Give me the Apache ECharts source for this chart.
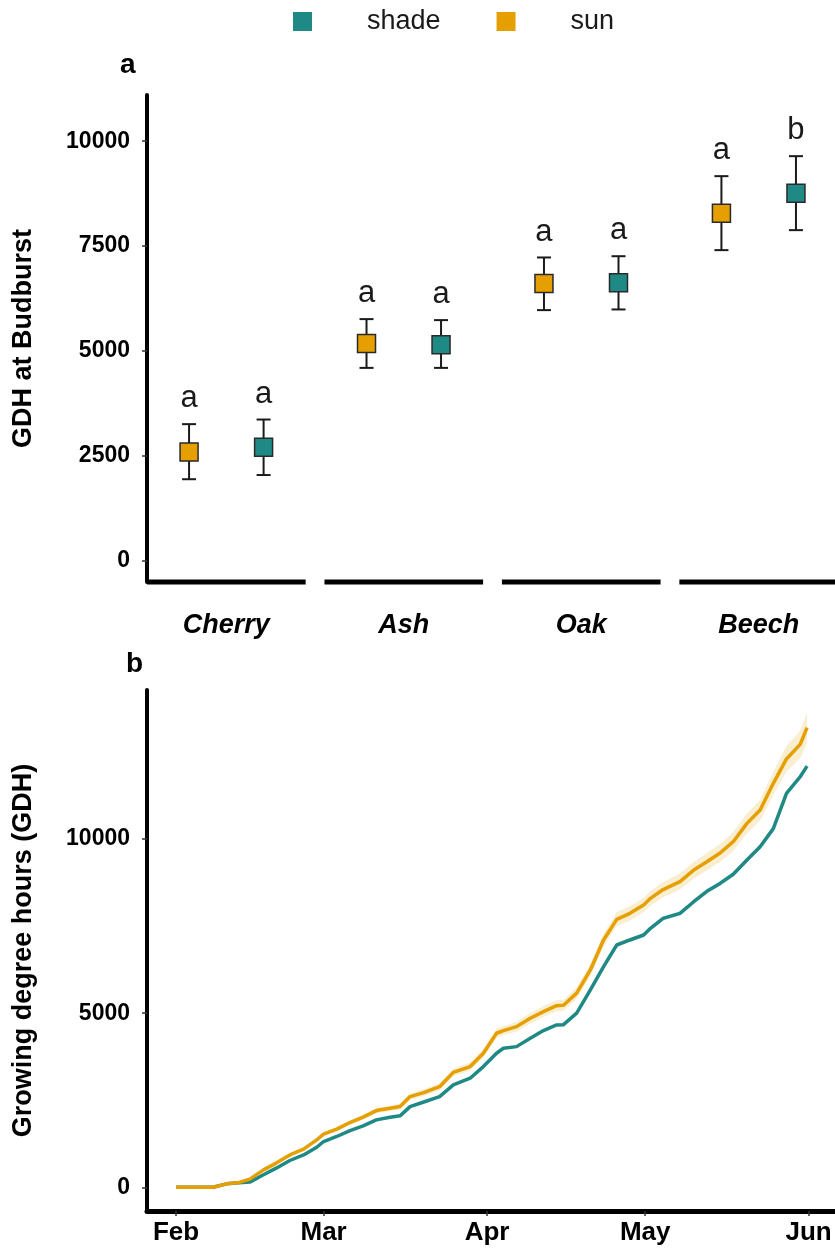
<!DOCTYPE html>
<html>
<head>
<meta charset="utf-8">
<title>GDH at budburst</title>
<script src="https://cdn.jsdelivr.net/npm/echarts@6/dist/echarts.min.js"></script>
<style>
  html, body { margin: 0; padding: 0; background: #fff; }
  #chart { width: 835px; height: 1253px; }
</style>
</head>
<body>
<div id="chart"></div>
<script>
// ---- panel a : GDH at budburst per species ----
var species = ["Cherry", "Ash", "Oak", "Beech"];
var sunMean = [2595, 5183, 6612, 8286];
var sunLow = [1948, 4600, 5976, 7405];
var sunHigh = [3260, 5762, 7230, 9167];
var shadeMean = [2707, 5150, 6627, 8762];
var shadeLow = [2048, 4600, 5992, 7881];
var shadeHigh = [3370, 5738, 7260, 9643];
var sunLetters = ["a", "a", "a", "a"];
var shadeLetters = ["a", "a", "a", "b"];
var gdhTicks = [0, 2500, 5000, 7500, 10000];

// ---- panel b : cumulative GDH, days since 1 Feb ----
var days = [0, 7, 9.6, 12, 14, 16.6, 19, 21.6, 24.2, 26.7,
  28, 30.5, 33, 35.5, 38, 40.6, 42.5, 44.4, 47, 50,
  52.6, 55.8, 58.3, 60.8, 62.1, 64.6, 67.2, 69.7, 72.2, 73.5,
  76, 78.6, 81.1, 83.6, 86.1, 88.7, 90, 92.4, 95.6, 98.2,
  100.7, 103.2, 105.7, 108.3, 110.8, 113.3, 115.8, 118.4, 119.7];
var sunGDH = [0, 0, 100, 140, 235, 500, 695, 930, 1095, 1363,
  1530, 1670, 1860, 2014, 2204, 2272, 2318, 2605, 2720, 2890,
  3300, 3467, 3850, 4424, 4500, 4614, 4855, 5045, 5217, 5230,
  5576, 6241, 7102, 7695, 7868, 8106, 8297, 8550, 8780, 9110,
  9349, 9600, 9924, 10450, 10832, 11600, 12300, 12720, 13200];
var shadeGDH = [0, 0, 100, 130, 150, 360, 550, 770, 930, 1150,
  1315, 1460, 1630, 1765, 1937, 2014, 2052, 2318, 2450, 2605,
  2941, 3133, 3467, 3850, 3994, 4040, 4281, 4500, 4663, 4670,
  5000, 5667, 6336, 6958, 7102, 7245, 7437, 7724, 7868, 8200,
  8500, 8727, 8990, 9400, 9780, 10300, 11311, 11789, 12095];
// half width of the ribbons
var sunSE = [0, 0, 10, 15, 20, 30, 35, 40, 45, 50,
  55, 60, 65, 70, 75, 80, 85, 90, 95, 100,
  110, 115, 120, 130, 135, 140, 150, 155, 160, 165,
  170, 180, 190, 200, 205, 210, 215, 220, 230, 240,
  250, 260, 270, 290, 300, 330, 370, 400, 430];
var shadeSE = [0, 0, 5, 5, 8, 10, 12, 14, 15, 16,
  18, 20, 20, 22, 24, 25, 26, 28, 30, 30,
  32, 34, 35, 36, 38, 40, 40, 42, 44, 45,
  46, 48, 50, 52, 54, 55, 56, 58, 60, 62,
  64, 66, 68, 70, 72, 75, 78, 80, 82];
var monthTicks = [0, 28, 59, 89, 120];
var monthLabels = ["Feb", "Mar", "Apr", "May", "Jun"];
var gdhTicks2 = [0, 5000, 10000];

var SUN = "#E69F00";
var SHADE = "#1F8A85";
var FONT = "Liberation Sans, Arial, sans-serif";
var DODGE = 0.21;

var chart = echarts.init(document.getElementById("chart"));

// error bars + significance letters
function errorSeries(name, offset, low, high, letters) {
  return {
    name: name + "-err",
    type: "custom",
    xAxisIndex: 0,
    yAxisIndex: 0,
    silent: true,
    z: 2,
    data: species.map(function (s, i) {
      return [i + 1 + offset, low[i], high[i]];
    }),
    renderItem: function (params, api) {
      var top = api.coord([api.value(0), api.value(2)]);
      var bot = api.coord([api.value(0), api.value(1)]);
      var cap = 7;
      var st = { stroke: "#1a1a1a", lineWidth: 2 };
      return {
        type: "group",
        children: [
          { type: "line", shape: { x1: top[0], y1: top[1], x2: bot[0], y2: bot[1] }, style: st },
          { type: "line", shape: { x1: top[0] - cap, y1: top[1], x2: top[0] + cap, y2: top[1] }, style: st },
          { type: "line", shape: { x1: bot[0] - cap, y1: bot[1], x2: bot[0] + cap, y2: bot[1] }, style: st },
          {
            type: "text",
            x: top[0],
            y: top[1] - 10,
            style: {
              text: letters[params.dataIndex],
              fill: "#1a1a1a",
              font: "31px " + FONT,
              align: "center",
              verticalAlign: "bottom",
            },
          },
        ],
      };
    },
  };
}

// ribbon for panel b
function ribbon(values, se, color) {
  return {
    type: "custom",
    xAxisIndex: 1,
    yAxisIndex: 1,
    silent: true,
    z: 1,
    data: days.map(function (d, i) { return [d, values[i]]; }),
    renderItem: function (params, api) {
      if (params.dataIndex !== 0) return null;
      var pts = [];
      for (var i = 0; i < days.length; i++) pts.push(api.coord([days[i], values[i] + se[i]]));
      for (var j = days.length - 1; j >= 0; j--) pts.push(api.coord([days[j], values[j] - se[j]]));
      return { type: "polygon", shape: { points: pts }, style: { fill: color } };
    },
  };
}

function plain(v) { return String(v); }

chart.setOption({
  animation: false,
  title: [
    { text: "a", left: 115, top: 46, textStyle: { fontFamily: FONT, fontSize: 28, fontWeight: "bold", color: "#000" } },
    { text: "b", left: 121, top: 645, textStyle: { fontFamily: FONT, fontSize: 28, fontWeight: "bold", color: "#000" } },
  ],
  legend: {
    data: ["shade", "sun"],
    left: 288,
    top: 3,
    icon: "rect",
    itemWidth: 19,
    itemHeight: 19,
    itemGap: 56,
    itemStyle: { borderWidth: 0 },
    textStyle: { fontFamily: FONT, fontSize: 27, color: "#1a1a1a", padding: [0, 0, 0, 50] },
  },
  grid: [
    { left: 147, top: 95, width: 688, height: 487 },
    { left: 147, top: 690, width: 688, height: 521 },
  ],
  xAxis: [
    {
      gridIndex: 0,
      type: "value",
      min: 0.553,
      max: 4.43,
      splitLine: { show: false },
      axisLine: { show: false, onZero: false },
      axisTick: { show: false },
      axisLabel: {
        customValues: [1, 2, 3, 4],
        formatter: function (v) { return species[Math.round(v) - 1]; },
        fontFamily: FONT,
        fontSize: 27,
        fontWeight: "bold",
        fontStyle: "italic",
        color: "#000",
        margin: 30,
      },
    },
    {
      gridIndex: 1,
      type: "value",
      min: -5.5,
      max: 125,
      splitLine: { show: false },
      axisLine: { onZero: false, lineStyle: { color: "#000", width: 5 } },
      axisTick: { customValues: monthTicks, length: 5, lineStyle: { color: "#333", width: 1.5 } },
      axisLabel: {
        customValues: monthTicks,
        formatter: function (v) { return monthLabels[monthTicks.indexOf(v)]; },
        fontFamily: FONT,
        fontSize: 26,
        fontWeight: "bold",
        color: "#000",
        margin: 9,
      },
    },
  ],
  yAxis: [
    {
      gridIndex: 0,
      type: "value",
      min: -500,
      max: 11100,
      name: "GDH at Budburst",
      nameLocation: "middle",
      nameGap: 110,
      nameTextStyle: { fontFamily: FONT, fontSize: 27, fontWeight: "bold", color: "#000" },
      splitLine: { show: false },
      axisLine: { onZero: false, lineStyle: { color: "#000", width: 4 } },
      axisTick: { customValues: gdhTicks, length: 5, lineStyle: { color: "#333", width: 1.5 } },
      axisLabel: {
        customValues: gdhTicks,
        formatter: plain,
        fontFamily: FONT,
        fontSize: 23,
        fontWeight: "bold",
        color: "#000",
        margin: 17,
      },
    },
    {
      gridIndex: 1,
      type: "value",
      min: -680,
      max: 14280,
      name: "Growing degree hours (GDH)",
      nameLocation: "middle",
      nameGap: 110,
      nameTextStyle: { fontFamily: FONT, fontSize: 27, fontWeight: "bold", color: "#000" },
      splitLine: { show: false },
      axisLine: { onZero: false, lineStyle: { color: "#000", width: 4 } },
      axisTick: { customValues: gdhTicks2, length: 5, lineStyle: { color: "#333", width: 1.5 } },
      axisLabel: {
        customValues: gdhTicks2,
        formatter: plain,
        fontFamily: FONT,
        fontSize: 23,
        fontWeight: "bold",
        color: "#000",
        margin: 17,
      },
    },
  ],
  series: [
    // broken x axis of panel a, one segment per species
    {
      type: "custom",
      xAxisIndex: 0,
      yAxisIndex: 0,
      silent: true,
      z: 1,
      data: species.map(function (s, i) { return [i + 1]; }),
      renderItem: function (params, api) {
        var a = api.coord([api.value(0) - 0.447, -500]);
        var b = api.coord([api.value(0) + 0.447, -500]);
        return { type: "line", shape: { x1: a[0], y1: a[1], x2: b[0], y2: b[1] }, style: { stroke: "#000", lineWidth: 5 } };
      },
    },
    errorSeries("sun", -DODGE, sunLow, sunHigh, sunLetters),
    errorSeries("shade", DODGE, shadeLow, shadeHigh, shadeLetters),
    {
      name: "sun",
      type: "scatter",
      xAxisIndex: 0,
      yAxisIndex: 0,
      symbol: "rect",
      symbolSize: 18,
      z: 3,
      itemStyle: { color: SUN, borderColor: "#2a2a2a", borderWidth: 1.5, opacity: 1 },
      data: sunMean.map(function (v, i) { return [i + 1 - DODGE, v]; }),
    },
    {
      name: "shade",
      type: "scatter",
      xAxisIndex: 0,
      yAxisIndex: 0,
      symbol: "rect",
      symbolSize: 18,
      z: 3,
      itemStyle: { color: SHADE, borderColor: "#2a2a2a", borderWidth: 1.5, opacity: 1 },
      data: shadeMean.map(function (v, i) { return [i + 1 + DODGE, v]; }),
    },
    ribbon(sunGDH, sunSE, "rgba(230,159,0,0.18)"),
    ribbon(shadeGDH, shadeSE, "rgba(31,138,133,0.18)"),
    {
      name: "shade",
      type: "line",
      xAxisIndex: 1,
      yAxisIndex: 1,
      showSymbol: false,
      z: 3,
      lineStyle: { color: SHADE, width: 3.5 },
      itemStyle: { color: SHADE },
      data: days.map(function (d, i) { return [d, shadeGDH[i]]; }),
    },
    {
      name: "sun",
      type: "line",
      xAxisIndex: 1,
      yAxisIndex: 1,
      showSymbol: false,
      z: 4,
      lineStyle: { color: SUN, width: 3.5 },
      itemStyle: { color: SUN },
      data: days.map(function (d, i) { return [d, sunGDH[i]]; }),
    },
  ],
});
</script>
</body>
</html>
